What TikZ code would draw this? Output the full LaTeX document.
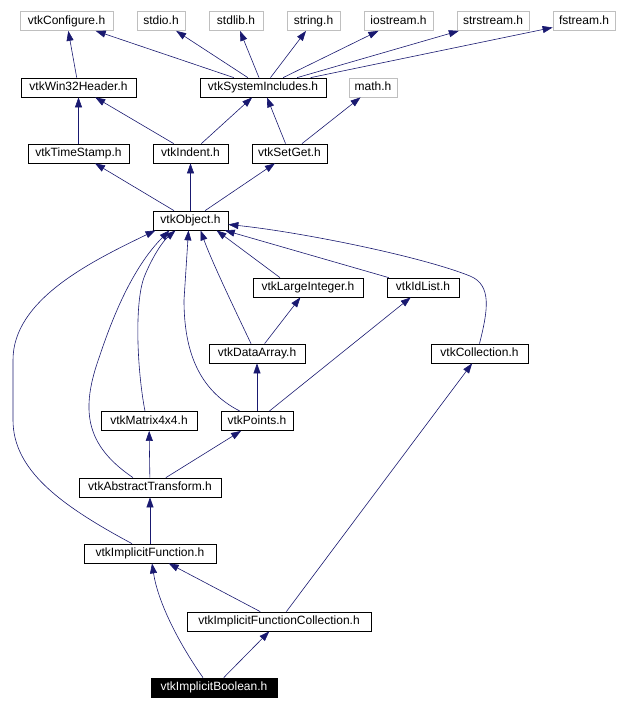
\documentclass[tikz,border=0pt]{standalone}
\usepackage{fontspec}
\setmainfont{Liberation Sans}
\usetikzlibrary{arrows.meta, calc}
\definecolor{edgeblue}{RGB}{25,25,112}
\tikzset{
  box/.style={draw, line width=0.75pt, fill=white, minimum height=19pt, minimum width=#1,
    inner sep=0pt, text height=8.6pt, text depth=2.4pt, font=\fontsize{12}{13}\selectfont},
  sysbox/.style={box=#1, draw=black!25},
  cur/.style={box=#1, fill=black, text=white},
  arr/.style={-{Triangle[length=10pt, width=7pt]}, draw=edgeblue, line width=0.6pt},
}

\begin{document}
\begin{tikzpicture}[x=1pt, y=-1pt]
    \useasboundingbox (0,0) rectangle (617,709);
    % system headers
    \node[sysbox=93pt] (conf) at (66.5,21) {vtkConfigure.h};
    \node[sysbox=48pt] (stdio) at (161,21) {stdio.h};
    \node[sysbox=54pt] (stdlib) at (236,21) {stdlib.h};
    \node[sysbox=53pt] (string) at (313.5,21) {string.h};
    \node[sysbox=69pt] (iostream) at (398.5,21) {iostream.h};
    \node[sysbox=72pt] (strstream) at (493,21) {strstream.h};
    \node[sysbox=62pt] (fstream) at (584,21) {fstream.h};
    \node[sysbox=48pt] (math) at (373,87.5) {math.h};
    % vtk headers
    \node[box=115pt] (win32) at (78.5,87.5) {vtkWin32Header.h};
    \node[box=126pt] (sysinc) at (263,87.5) {vtkSystemIncludes.h};
    \node[box=101pt] (timestamp) at (78.5,153.5) {vtkTimeStamp.h};
    \node[box=75pt] (indent) at (190.5,153.5) {vtkIndent.h};
    \node[box=75pt] (setget) at (289.5,153.5) {vtkSetGet.h};
    \node[box=75pt] (object) at (190.5,220.5) {vtkObject.h};
    \node[box=110pt] (largeint) at (308,287.5) {vtkLargeInteger.h};
    \node[box=72pt] (idlist) at (423,287.5) {vtkIdList.h};
    \node[box=96pt] (dataarray) at (257,353.5) {vtkDataArray.h};
    \node[box=97pt] (collection) at (479.5,353.5) {vtkCollection.h};
    \node[box=96pt] (matrix) at (149,421) {vtkMatrix4x4.h};
    \node[box=72pt] (points) at (257,421) {vtkPoints.h};
    \node[box=142pt] (abstract) at (150,487.5) {vtkAbstractTransform.h};
    \node[box=132pt] (implfunc) at (150,553.5) {vtkImplicitFunction.h};
    \node[box=184pt] (implcoll) at (279,621.5) {vtkImplicitFunctionCollection.h};
    \node[cur=126pt] (boolean) at (214,687.5) {vtkImplicitBoolean.h};

    % include edges
    \draw[arr] (win32) -- (conf);
    \foreach \t in {conf, stdio, stdlib, string, iostream, strstream, fstream}
      \draw[arr] (sysinc) -- (\t);
    \draw[arr] (timestamp) -- (win32);
    \draw[arr] (indent) -- (win32);
    \draw[arr] (indent) -- (sysinc);
    \draw[arr] (setget) -- (sysinc);
    \draw[arr] (setget) -- (math);
    \draw[arr] (object) -- (timestamp);
    \draw[arr] (object) -- (indent);
    \draw[arr] (object) -- (setget);
    \draw[arr] ([xshift=-28pt]largeint.north) -- ([xshift=26pt]object.south);
    \draw[arr] (idlist) -- (object);
    \draw[arr] (collection.north) .. controls (488,310) and (492,285) .. (470,276)
      .. controls (420,256) and (300,232) .. ([yshift=-4pt]object.east);
    \draw[arr] ([xshift=-6pt]dataarray.north) .. controls (235,310) and (212,262) .. ([xshift=10pt]object.south);
    \draw[arr] (dataarray) -- (largeint);
    \draw[arr] ([xshift=-17pt]points.north) .. controls (198,390) and (184,350) .. (184,300)
      -- ([xshift=-2pt]object.south);
    \draw[arr] (points) -- (dataarray);
    \draw[arr] (points) -- (idlist);
    \draw[arr] ([xshift=-4pt]matrix.north) .. controls (137,370) and (134,300) .. (145,275)
      .. controls (152,258) and (162,242) .. ([xshift=-15pt]object.south);
    \draw[arr] ([xshift=-17pt]abstract.north) .. controls (85,445) and (80,410) .. (100,355)
      .. controls (115,310) and (135,265) .. ([xshift=-21pt]object.south);
    \draw[arr] (abstract) -- (matrix);
    \draw[arr] (abstract) -- (points);
    \draw[arr] ([xshift=-18pt]implfunc.north) .. controls (60,505) and (13,470) .. (13,420)
      -- (13,360) .. controls (13,300) and (90,262) .. ([xshift=-35pt]object.south);
    \draw[arr] (implfunc) -- (abstract);
    \draw[arr] (implcoll) -- (implfunc);
    \draw[arr] (implcoll) -- (collection);
    \draw[arr] ([xshift=-11pt]boolean.north) .. controls (178,642) and (158,602) .. ([xshift=2pt]implfunc.south);
    \draw[arr] (boolean) -- (implcoll);
\end{tikzpicture}
\end{document}
